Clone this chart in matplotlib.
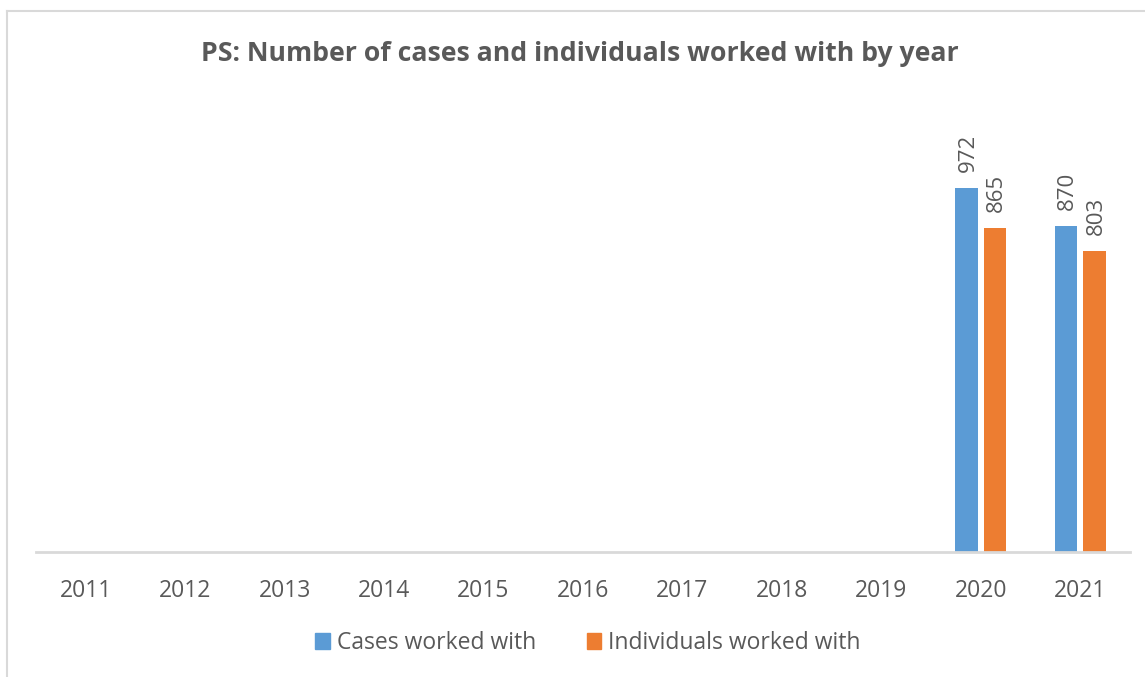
import numpy as np
import matplotlib.pyplot as plt
from matplotlib.patches import Patch
from matplotlib.lines import Line2D

# chart data
years = ['2011', '2012', '2013', '2014', '2015', '2016', '2017', '2018', '2019', '2020', '2021']
cases = [0, 0, 0, 0, 0, 0, 0, 0, 0, 972, 870]
individuals = [0, 0, 0, 0, 0, 0, 0, 0, 0, 865, 803]

blue = '#5B9BD5'
orange = '#ED7D31'
txt = '#595959'

plt.rcParams['font.family'] = ['Open Sans', 'DejaVu Sans']

fig = plt.figure(figsize=(11.45, 6.77), dpi=100)
W, H = 1145, 677
ax = fig.add_axes([36 / W, (H - 551.7) / H, (1130 - 36) / W, (551.7 - 103) / H])

x = np.arange(len(years))
bw = 0.228
off = 0.143
b1 = ax.bar(x - off, cases, bw, color=blue)
b2 = ax.bar(x + off, individuals, bw, color=orange)

# data labels only for non-empty bars
for bars, vals in ((b1, cases), (b2, individuals)):
    for rect, v in zip(bars, vals):
        if v:
            ax.annotate(str(v), (rect.get_x() + rect.get_width() / 2, v),
                        xytext=(1, 12), textcoords='offset points',
                        rotation=90, ha='center', va='bottom',
                        fontsize=16, color=txt)

ax.set_xlim(-0.5, len(years) - 0.5)
ax.set_ylim(0, 1200)
ax.set_xticks(x)
ax.set_xticklabels(years, fontsize=16.5, color=txt)
ax.tick_params(axis='x', length=0, pad=20)
ax.set_yticks([])
for s in ('top', 'right', 'left'):
    ax.spines[s].set_visible(False)
ax.spines['bottom'].set_color('#D9D9D9')
ax.spines['bottom'].set_linewidth(2)

fig.text(0.506, (H - 54) / H, 'PS: Number of cases and individuals worked with by year',
         ha='center', va='center', fontsize=19.2, fontweight='bold', color=txt)

handles = [Patch(color=blue), Patch(color=orange)]
fig.legend(handles, ['Cases worked with', 'Individuals worked with'],
           loc='center', bbox_to_anchor=(0.5135, (H - 643) / H), ncol=2,
           frameon=False, fontsize=16.5, labelcolor=txt,
           handlelength=0.65, handleheight=0.65, handletextpad=0.3, columnspacing=2.2)

# chart border (left and top edges visible)
fig.add_artist(Line2D([7 / W, 7 / W], [0, (H - 11) / H], color='#D9D9D9', lw=1.5))
fig.add_artist(Line2D([7 / W, 1], [(H - 11) / H, (H - 11) / H], color='#D9D9D9', lw=1.5))

fig.savefig('out.png', dpi=100)
